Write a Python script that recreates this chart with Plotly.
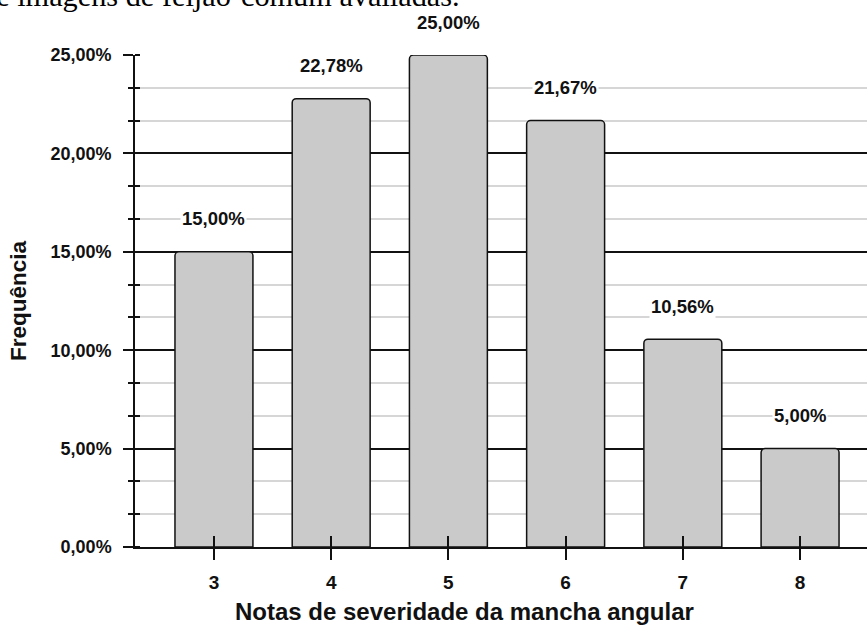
import plotly.graph_objects as go

# Severity scores and their relative frequency (%)
notas = [3, 4, 5, 6, 7, 8]
frequencia = [15.00, 22.78, 25.00, 21.67, 10.56, 5.00]
rotulos = ["15,00%", "22,78%", "25,00%", "21,67%", "10,56%", "5,00%"]

y_ticks = [0, 5, 10, 15, 20, 25]
y_ticktext = ["0,00%", "5,00%", "10,00%", "15,00%", "20,00%", "25,00%"]

FONT = "Liberation Sans, Arial, sans-serif"

fig = go.Figure()
fig.add_trace(go.Bar(
    x=notas, y=frequencia, width=0.665,
    marker=dict(color="#cacaca", line=dict(color="#111111", width=1.5)),
    hoverinfo="skip", showlegend=False,
))

# value labels above each bar, on a white box so grid lines break around them
for xv, yv, txt in zip(notas, frequencia, rotulos):
    fig.add_annotation(
        x=xv, y=yv, text="<b>" + txt + "</b>", showarrow=False,
        yshift=33, yanchor="middle", bgcolor="white", borderpad=1,
        font=dict(family=FONT, size=18.5, color="#111111"),
    )

# trailing line of the surrounding caption, cropped by the top edge
fig.add_annotation(
    xref="paper", yref="paper", x=0.4467, y=1.0813,
    xanchor="right", yanchor="bottom", showarrow=False,
    text="de imagens de feijão-comum avaliadas.",
    font=dict(family="Liberation Serif, Times New Roman, serif", size=30.3, color="#000000"),
)

# axis titles
fig.add_annotation(
    xref="paper", yref="paper", x=0.4508, y=-0.131,
    xanchor="center", yanchor="middle", showarrow=False,
    text="<b>Notas de severidade da mancha angular</b>",
    font=dict(family=FONT, size=24, color="#111111"),
)
fig.add_annotation(
    xref="paper", yref="paper", x=-0.1598, y=0.50,
    xanchor="center", yanchor="middle", showarrow=False, textangle=-90,
    text="<b>Frequência</b>",
    font=dict(family=FONT, size=22.5, color="#111111"),
)

xr = [2.3265, 8.571]
yr = [0, 25]

fig.update_layout(
    width=867, height=630,
    margin=dict(l=135, r=0, t=55, b=83),
    paper_bgcolor="white", plot_bgcolor="white",
    barcornerradius=4,
    font=dict(family=FONT, size=18, color="#111111"),
    xaxis=dict(
        range=xr, tickmode="array", tickvals=notas,
        ticktext=["<b>%d</b>" % n for n in notas],
        ticks="outside", ticklen=11, tickwidth=1.5, tickcolor="#111111",
        showline=True, linecolor="#111111", linewidth=1.5,
        showgrid=False, zeroline=False, ticklabelstandoff=6,
        tickfont=dict(size=19),
    ),
    xaxis2=dict(
        range=xr, overlaying="x", tickmode="array", tickvals=notas,
        showticklabels=False, ticks="inside", ticklen=11, tickwidth=1.5,
        tickcolor="#111111", showgrid=False, zeroline=False, showline=False,
    ),
    yaxis=dict(
        range=yr, tickmode="array", tickvals=y_ticks, ticktext=y_ticktext,
        ticks="outside", ticklen=10, tickwidth=1.5, tickcolor="#111111",
        showline=True, linecolor="#111111", linewidth=1.5,
        showgrid=True, gridcolor="#111111", gridwidth=1.5,
        zeroline=False, ticklabelstandoff=8,
        tickfont=dict(size=18, weight="bold"),
        minor=dict(dtick=5 / 3, tick0=0, ticks="outside", ticklen=5, tickwidth=1.5,
                   tickcolor="#111111", showgrid=True, gridcolor="#d6d6d6", gridwidth=1.5),
    ),
    yaxis2=dict(
        range=yr, overlaying="y", tickmode="array", tickvals=y_ticks,
        showticklabels=False, ticks="", showgrid=False, zeroline=False, showline=False,
        minor=dict(dtick=5 / 3, tick0=0, ticks="inside", ticklen=5, tickwidth=1.5,
                   tickcolor="#111111", showgrid=False),
    ),
)

# invisible trace so the overlay axes are drawn
fig.add_trace(go.Scatter(x=[notas[0]], y=[0], xaxis="x2", yaxis="y2",
                         mode="markers", marker=dict(opacity=0),
                         hoverinfo="skip", showlegend=False))

fig.write_html("out.html")
